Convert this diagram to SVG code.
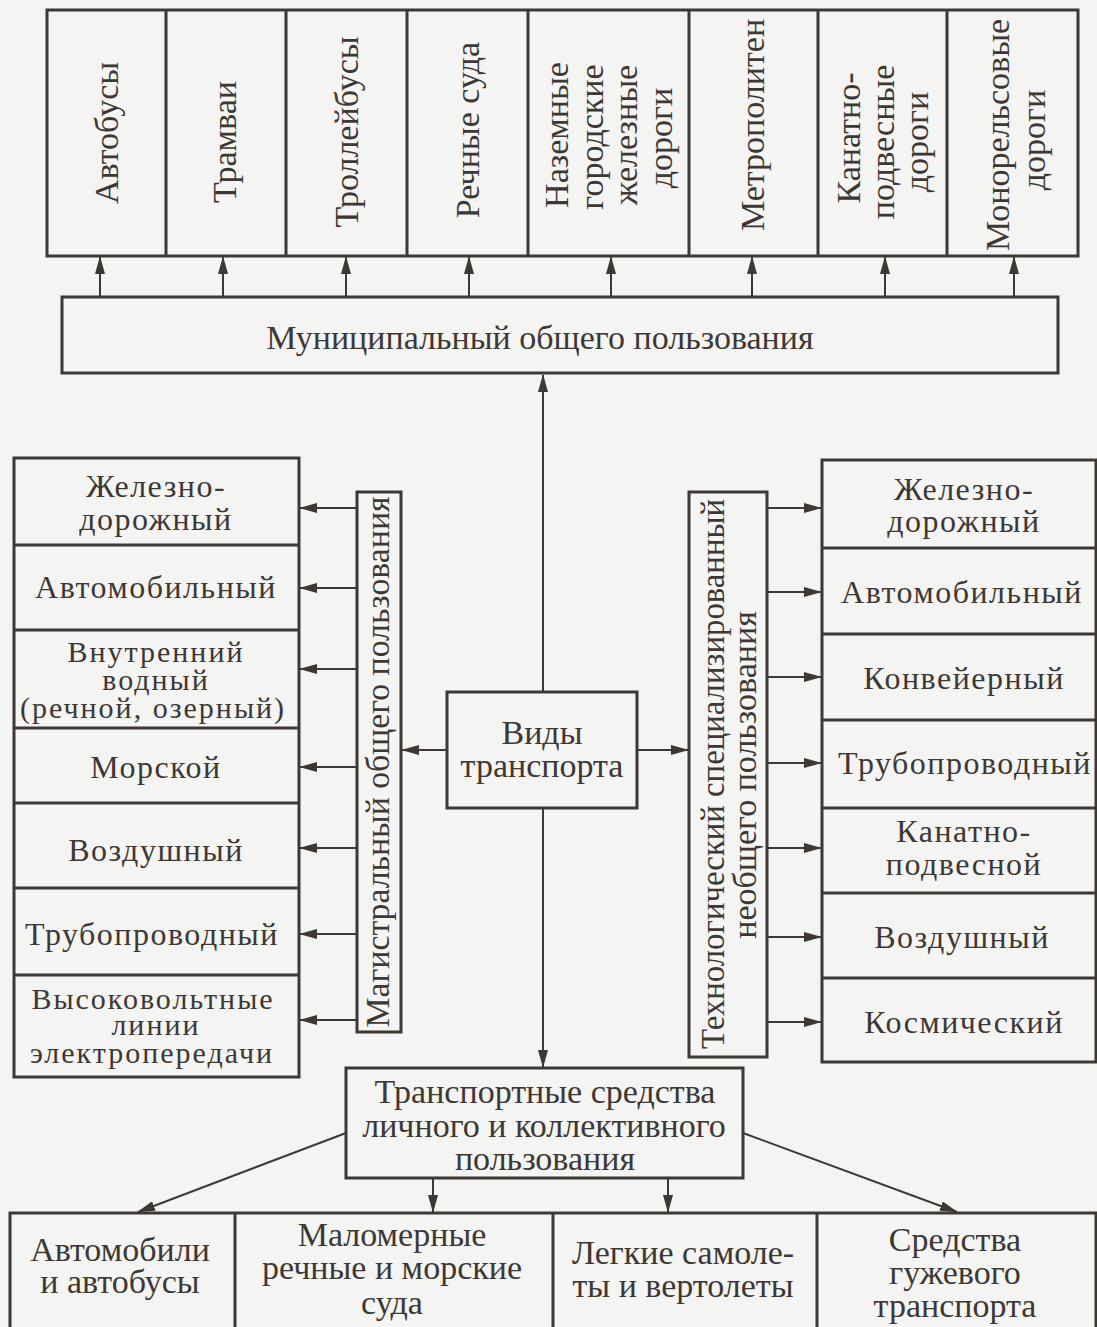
<svg xmlns="http://www.w3.org/2000/svg" width="1097" height="1327" viewBox="0 0 1097 1327">
<style>
.box{fill:none;stroke:#3d3833;stroke-width:3}
.ln{fill:none;stroke:#3d3833;stroke-width:2}
text{font-family:"Liberation Serif","Times New Roman",serif;fill:#3d3833;font-size:34px;text-anchor:middle}
.col{font-size:32px;letter-spacing:1.5px}
.col3{font-size:30px;letter-spacing:2px}
</style>
<defs>
<marker id="ah" markerWidth="18" markerHeight="10" refX="17" refY="5" orient="auto" markerUnits="userSpaceOnUse">
<path d="M0,0 L18,5 L0,10 z" fill="#3d3833"/>
</marker>
</defs>
<rect width="1097" height="1327" fill="#f4f4f2"/>

<g id="top-row">
<rect class="box" x="47" y="10" width="1031" height="246"/>
<path class="box" d="M166,10V256M286,10V256M407,10V256M528,10V256M689,10V256M818,10V256M947,10V256"/>
<text transform="translate(118,133) rotate(-90)">Автобусы</text>
<text transform="translate(236,142) rotate(-90)">Трамваи</text>
<text transform="translate(358,132) rotate(-90)">Троллейбусы</text>
<text transform="translate(479,130) rotate(-90)">Речные суда</text>
<text transform="translate(568,135) rotate(-90)">Наземные</text>
<text transform="translate(603,137) rotate(-90)">городские</text>
<text transform="translate(637,135) rotate(-90)">железные</text>
<text transform="translate(672,138) rotate(-90)">дороги</text>
<text transform="translate(764,125) rotate(-90)">Метрополитен</text>
<text transform="translate(860,138) rotate(-90)">Канатно-</text>
<text transform="translate(894,142) rotate(-90)">подвесные</text>
<text transform="translate(928,142) rotate(-90)">дороги</text>
<text transform="translate(1009,135) rotate(-90)">Монорельсовые</text>
<text transform="translate(1045,140) rotate(-90)">дороги</text>
</g>

<g id="municipal">
<rect class="box" x="62" y="297" width="996" height="76"/>
<text x="540" y="349">Муниципальный общего пользования</text>
</g>

<g id="vidy">
<rect class="box" x="447" y="692" width="190" height="116"/>
<text x="542" y="744">Виды</text>
<text x="542" y="777">транспорта</text>
</g>

<g id="magistral">
<rect class="box" x="357" y="492" width="44" height="540"/>
<text transform="translate(389,762) rotate(-90)" font-size="30" textLength="531" lengthAdjust="spacingAndGlyphs">Магистральный общего пользования</text>
</g>

<g id="tech">
<rect class="box" x="689" y="492" width="78" height="565"/>
<text transform="translate(724,774) rotate(-90)" font-size="30" textLength="550" lengthAdjust="spacingAndGlyphs">Технологический специализированный</text>
<text transform="translate(756,775) rotate(-90)" font-size="30">необщего пользования</text>
</g>

<g id="left-col">
<rect class="box" x="14" y="458" width="285" height="619"/>
<path class="box" d="M14,545H299M14,630H299M14,728H299M14,803H299M14,888H299M14,975H299"/>
<text class="col" x="156" y="497">Железно-</text>
<text class="col" x="156" y="530">дорожный</text>
<text class="col" x="156" y="598">Автомобильный</text>
<text class="col3" x="156" y="662">Внутренний</text>
<text class="col3" x="156" y="690">водный</text>
<text class="col3" x="153" y="718">(речной, озерный)</text>
<text class="col" x="156" y="778">Морской</text>
<text class="col" x="156" y="861">Воздушный</text>
<text class="col" x="152" y="945">Трубопроводный</text>
<text class="col3" x="153" y="1009">Высоковольтные</text>
<text class="col3" x="156" y="1035">линии</text>
<text class="col3" x="152" y="1063">электропередачи</text>
</g>

<g id="right-col">
<rect class="box" x="822" y="460" width="274" height="602"/>
<path class="box" d="M822,548H1096M822,634H1096M822,720H1096M822,808H1096M822,893H1096M822,978H1096"/>
<text class="col" x="964" y="500">Железно-</text>
<text class="col" x="964" y="532">дорожный</text>
<text class="col" x="962" y="603">Автомобильный</text>
<text class="col" x="964" y="689">Конвейерный</text>
<text class="col" x="965" y="774">Трубопроводный</text>
<text class="col" x="964" y="842">Канатно-</text>
<text class="col" x="964" y="875">подвесной</text>
<text class="col" x="962" y="948">Воздушный</text>
<text class="col" x="964" y="1033">Космический</text>
</g>

<g id="personal">
<rect class="box" x="346" y="1068" width="397" height="110"/>
<text x="545" y="1103">Транспортные средства</text>
<text x="544" y="1137">личного и коллективного</text>
<text x="545" y="1170">пользования</text>
</g>

<g id="bottom-row">
<rect class="box" x="10" y="1213" width="1086" height="130"/>
<path class="box" d="M235,1213V1327M553,1213V1327M817,1213V1327"/>
<text x="120" y="1261">Автомобили</text>
<text x="120" y="1293">и автобусы</text>
<text x="392" y="1246">Маломерные</text>
<text x="392" y="1279">речные и морские</text>
<text x="392" y="1314">суда</text>
<text x="683" y="1264">Легкие самоле-</text>
<text x="683" y="1297">ты и вертолеты</text>
<text x="955" y="1251">Средства</text>
<text x="955" y="1284">гужевого</text>
<text x="955" y="1317">транспорта</text>
</g>

<g id="connectors">
<path class="ln" marker-end="url(#ah)" d="M100,297V257"/>
<path class="ln" marker-end="url(#ah)" d="M223,297V257"/>
<path class="ln" marker-end="url(#ah)" d="M346,297V257"/>
<path class="ln" marker-end="url(#ah)" d="M469,297V257"/>
<path class="ln" marker-end="url(#ah)" d="M611,297V257"/>
<path class="ln" marker-end="url(#ah)" d="M752,297V257"/>
<path class="ln" marker-end="url(#ah)" d="M885,297V257"/>
<path class="ln" marker-end="url(#ah)" d="M1014,297V257"/>
<path class="ln" marker-end="url(#ah)" d="M543,692V375"/>
<path class="ln" marker-end="url(#ah)" d="M543,808V1067"/>
<path class="ln" marker-end="url(#ah)" d="M447,750H402"/>
<path class="ln" marker-end="url(#ah)" d="M637,750H688"/>
<path class="ln" marker-end="url(#ah)" d="M357,508H300"/>
<path class="ln" marker-end="url(#ah)" d="M357,588H300"/>
<path class="ln" marker-end="url(#ah)" d="M357,669H300"/>
<path class="ln" marker-end="url(#ah)" d="M357,767H300"/>
<path class="ln" marker-end="url(#ah)" d="M357,848H300"/>
<path class="ln" marker-end="url(#ah)" d="M357,934H300"/>
<path class="ln" marker-end="url(#ah)" d="M357,1020H300"/>
<path class="ln" marker-end="url(#ah)" d="M767,508H821"/>
<path class="ln" marker-end="url(#ah)" d="M767,592H821"/>
<path class="ln" marker-end="url(#ah)" d="M767,677H821"/>
<path class="ln" marker-end="url(#ah)" d="M767,763H821"/>
<path class="ln" marker-end="url(#ah)" d="M767,848H821"/>
<path class="ln" marker-end="url(#ah)" d="M767,937H821"/>
<path class="ln" marker-end="url(#ah)" d="M767,1022H821"/>
<path class="ln" marker-end="url(#ah)" d="M346,1133L138,1212"/>
<path class="ln" marker-end="url(#ah)" d="M743,1133L957,1212"/>
<path class="ln" marker-end="url(#ah)" d="M433,1178V1212"/>
<path class="ln" marker-end="url(#ah)" d="M668,1178V1212"/>
</g>
</svg>
